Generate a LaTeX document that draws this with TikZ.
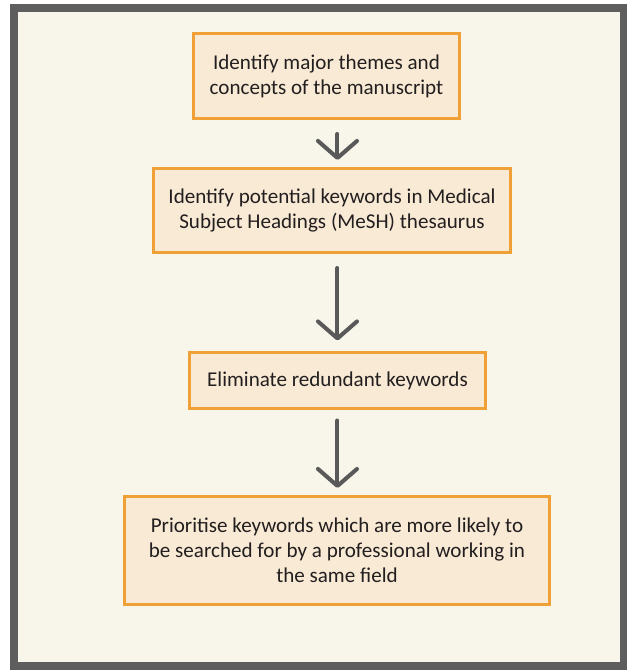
\documentclass[tikz,border=0pt]{standalone}
\usepackage{fontspec}
\setmainfont{Carlito}
\usepackage{xcolor}
\usetikzlibrary{arrows.meta}
\definecolor{framegray}{HTML}{5E5E5E}
\definecolor{paper}{HTML}{F8F6EA}
\definecolor{peach}{HTML}{F8EAD4}
\definecolor{boxorange}{HTML}{EFA036}
\definecolor{inkgray}{HTML}{595959}
\definecolor{textdark}{HTML}{231F20}

\begin{document}
\begin{tikzpicture}[x=0.02cm, y=-0.02cm,
	stepbox/.style={rectangle, draw=boxorange, line width=1.7pt, fill=peach, text=textdark, align=center, font=\fontsize{12}{14.2}\selectfont, anchor=north west},
	flow/.style={line width=2.3pt, draw=inkgray, line cap=round, -{Straight Barb[length=0.34cm, width=0.78cm, line width=2.3pt, round]}}]

\useasboundingbox (0,0) rectangle (630,671);
\fill [white] (0,0) rectangle (630,671);
\draw [line width=4pt, draw=framegray, fill=paper] (14,8) rectangle (623,666);

\node at (192,32) [stepbox, minimum width=5.32cm, minimum height=1.7cm] (themes) {Identify major themes and\\concepts of the manuscript};
\node at (152,167) [stepbox, minimum width=7.14cm, minimum height=1.68cm] (mesh) {Identify potential keywords in Medical\\Subject Headings (MeSH) thesaurus};
\node at (188,351) [stepbox, minimum width=5.92cm, minimum height=1.12cm] (redund) {Eliminate redundant keywords};
\node at (123,495) [stepbox, minimum width=8.5cm, minimum height=2.16cm] (prior) {Prioritise keywords which are more likely to\\be searched for by a professional working in\\the same field};

\draw [flow, shorten <=8pt, shorten >=4pt] (themes.south -| redund) -- (mesh.north -| redund);
\draw [flow, shorten <=8pt, shorten >=6pt] (mesh.south -| redund) -- (redund.north);
\draw [flow, shorten <=6pt, shorten >=4pt] (redund.south) -- (prior.north -| redund);

\end{tikzpicture}
\end{document}
